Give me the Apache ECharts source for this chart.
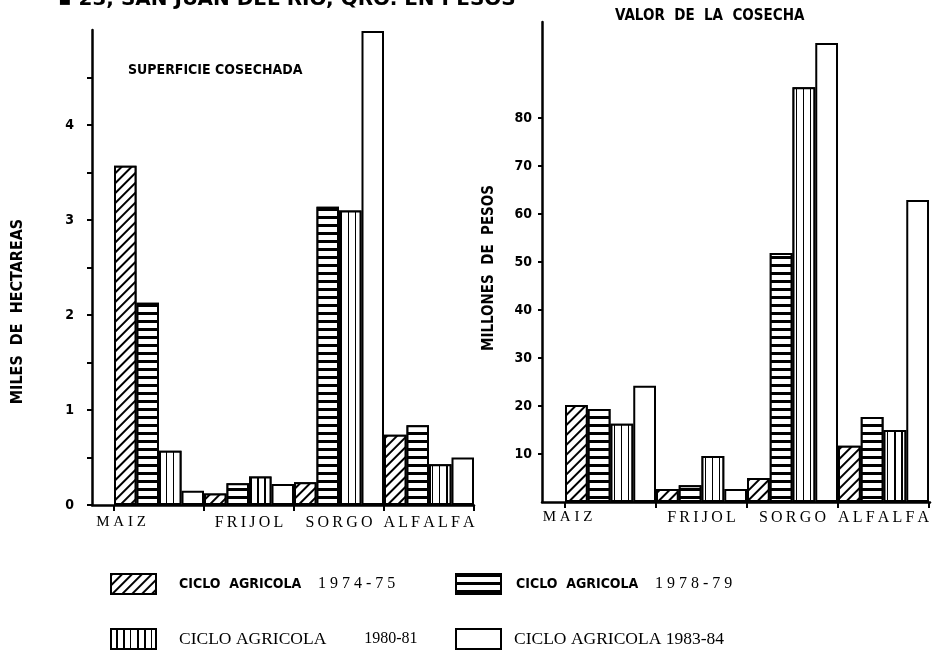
<!DOCTYPE html>
<html>
<head>
<meta charset="utf-8">
<script src="https://cdn.jsdelivr.net/npm/echarts@6/dist/echarts.min.js"></script>
<style>
html,body{margin:0;padding:0;background:#fff;}
#chart{width:932px;height:653px;}
</style>
</head>
<body>
<div id="chart"></div>
<script>
// ---- data ----
const categories = ['MAIZ', 'FRIJOL', 'SORGO', 'ALFALFA'];
const seriesNames = ['1974-75', '1978-79', '1980-81', '1983-84'];
// Superficie cosechada (miles de hectáreas)
const area7475 = [3.57, 0.12, 0.24, 0.74];
const area7879 = [2.13, 0.23, 3.14, 0.84];
const area8081 = [0.57, 0.30, 3.10, 0.43];
const area8384 = [0.15, 0.22, 4.99, 0.50];
// Valor de la cosecha (millones de pesos)
const value7475 = [20.2, 2.7, 5.0, 11.7];
const value7879 = [19.4, 3.5, 51.9, 17.7];
const value8081 = [16.3, 9.6, 86.4, 15.0];
const value8384 = [24.2, 2.7, 95.6, 62.9];
// tick values
const areaTicks = [0, 0.5, 1, 1.5, 2, 2.5, 3, 3.5, 4, 4.5];
const areaLabels = [0, 1, 2, 3, 4];
const valueTicks = [10, 20, 30, 40, 50, 60, 70, 80];

const condensed = "'DejaVu Sans Condensed','Liberation Sans Narrow','Arial Narrow','DejaVu Sans',sans-serif";
const serif = "'Liberation Serif','DejaVu Serif',serif";
const TS = '\u2009';
function spaced(s) { return s.split('').join(TS); }

const patterns = [
  { symbol: 'rect', symbolSize: 1, dashArrayX: [1, 0], dashArrayY: [2, 5], rotation: -Math.PI / 4, color: '#000', backgroundColor: '#fff' },
  { symbol: 'rect', symbolSize: 1, dashArrayX: [1, 0], dashArrayY: [3, 5], rotation: 0, color: '#000', backgroundColor: '#fff' },
  { symbol: 'rect', symbolSize: 1, dashArrayX: [1, 0], dashArrayY: [2, 5], rotation: Math.PI / 2, color: '#000', backgroundColor: '#fff' },
  null
];

const chart = echarts.init(document.getElementById('chart'), null, { renderer: 'canvas' });

const axisLine = { show: true, lineStyle: { color: '#000', width: 2.5 } };

function barSeries(name, data, idx, axisIdx) {
  const itemStyle = { color: '#fff', borderColor: '#000', borderWidth: 2 };
  if (patterns[idx]) itemStyle.decal = patterns[idx];
  return {
    type: 'bar', name: name, data: data,
    xAxisIndex: axisIdx, yAxisIndex: axisIdx,
    barGap: '0%', barCategoryGap: '0%',
    itemStyle: itemStyle,
    emphasis: { disabled: true },
    animation: false
  };
}

function catAxis(gridIndex, margin, shift) {
  return {
    type: 'category', gridIndex: gridIndex, data: categories,
    axisLine: { show: false },
    axisTick: { show: true, interval: 0, length: 6, lineStyle: { color: '#000', width: 2 } },
    axisLabel: {
      interval: 0, margin: margin, color: '#000', fontFamily: serif, fontSize: 16,
      formatter: function (v) { return v === 'MAIZ' ? '{m|M A I Z}' : '{n|' + spaced(v) + '}'; },
      rich: {
        m: { fontFamily: serif, fontSize: 15, color: '#000', padding: [0, shift, 0, 0] },
        n: { fontFamily: serif, fontSize: 16, color: '#000' }
      }
    },
    splitLine: { show: false }
  };
}

function lineAxis(gridIndex) {
  return {
    type: 'value', gridIndex: gridIndex, min: 0, max: 1,
    axisLine: axisLine, axisTick: { show: false }, axisLabel: { show: false }, splitLine: { show: false }
  };
}

const legendRich = {
  b: { fontFamily: condensed, fontWeight: 'bold', fontSize: 14, color: '#000' },
  s: { fontFamily: serif, fontSize: 17.5, color: '#000' },
  z: { fontFamily: serif, fontSize: 16, color: '#000', padding: [0, 0, 0, 38] },
  w: { fontFamily: serif, fontSize: 16, color: '#000', padding: [0, 0, 0, 10] }
};

function legend(name, left, top, pad, fmt) {
  return {
    data: [name], left: left, top: top, padding: 0, itemWidth: 45, itemHeight: 20, itemGap: 0,
    icon: 'rect', selectedMode: false,
    textStyle: { rich: legendRich, padding: [0, 0, 0, pad] },
    formatter: fmt
  };
}

const option = {
  backgroundColor: '#fff',
  animation: false,
  title: [
    { text: '▪ 23, SAN JUAN DEL RIO, QRO. EN PESOS', left: 58, top: -10, padding: 0,
      textStyle: { fontFamily: "'DejaVu Sans',sans-serif", fontWeight: 'bold', fontSize: 20, color: '#000' } },
    { text: 'SUPERFICIE COSECHADA', left: 128, top: 63, padding: 0,
      textStyle: { fontFamily: condensed, fontWeight: 'bold', fontSize: 14, color: '#000' } },
    { text: 'VALOR  DE  LA  COSECHA', left: 615, top: 9, padding: 0,
      textStyle: { fontFamily: condensed, fontWeight: 'bold', fontSize: 15, color: '#000' } }
  ],
  grid: [
    { left: 92, right: 458, top: 30, bottom: 148 },
    { left: 114, right: 458, top: 30, bottom: 148 },
    { left: 542, right: 2, top: 22, bottom: 151 },
    { left: 565, right: 2, top: 22, bottom: 151 }
  ],
  xAxis: [
    lineAxis(0),
    catAxis(1, 10, 76),
    lineAxis(2),
    catAxis(3, 8, 86)
  ],
  yAxis: [
    {
      type: 'value', gridIndex: 0, min: 0, max: 5,
      name: 'MILES  DE  HECTAREAS', nameLocation: 'middle', nameRotate: 90, nameGap: 66,
      nameTextStyle: { fontFamily: condensed, fontWeight: 'bold', fontSize: 16, color: '#000', padding: [0, 88, 0, 0] },
      axisLine: axisLine,
      axisTick: { show: true, length: 5, customValues: areaTicks, lineStyle: { color: '#000', width: 2 } },
      axisLabel: { customValues: areaLabels, margin: 18, color: '#000', fontFamily: condensed, fontWeight: 'bold', fontSize: 14 },
      splitLine: { show: false }
    },
    { type: 'value', gridIndex: 1, min: 0, max: 5, show: false },
    {
      type: 'value', gridIndex: 2, min: 0, max: 100,
      name: 'MILLONES  DE  PESOS', nameLocation: 'middle', nameRotate: 90, nameGap: 45,
      nameTextStyle: { fontFamily: condensed, fontWeight: 'bold', fontSize: 15, color: '#000', padding: [0, 12, 0, 0] },
      axisLine: axisLine,
      axisTick: { show: true, length: 4, customValues: valueTicks, lineStyle: { color: '#000', width: 2 } },
      axisLabel: { customValues: valueTicks, margin: 10, color: '#000', fontFamily: condensed, fontWeight: 'bold', fontSize: 14 },
      splitLine: { show: false }
    },
    { type: 'value', gridIndex: 3, min: 0, max: 100, show: false }
  ],
  legend: [
    legend(seriesNames[0], 110, 573, 18, function () { return '{b|CICLO  AGRICOLA}  {w|1 9 7 4 - 7 5}'; }),
    legend(seriesNames[1], 455, 573, 10, function () { return '{b|CICLO  AGRICOLA}  {w|1 9 7 8 - 7 9}'; }),
    legend(seriesNames[2], 110, 628, 18, function () { return '{s|CICLO AGRICOLA}{z|1980-81}'; }),
    legend(seriesNames[3], 455, 628, 8, function () { return '{s|CICLO AGRICOLA 1983-84}'; })
  ],
  series: [
    barSeries(seriesNames[0], area7475, 0, 1),
    barSeries(seriesNames[1], area7879, 1, 1),
    barSeries(seriesNames[2], area8081, 2, 1),
    barSeries(seriesNames[3], area8384, 3, 1),
    barSeries(seriesNames[0], value7475, 0, 3),
    barSeries(seriesNames[1], value7879, 1, 3),
    barSeries(seriesNames[2], value8081, 2, 3),
    barSeries(seriesNames[3], value8384, 3, 3)
  ]
};
chart.setOption(option);
</script>
</body>
</html>
